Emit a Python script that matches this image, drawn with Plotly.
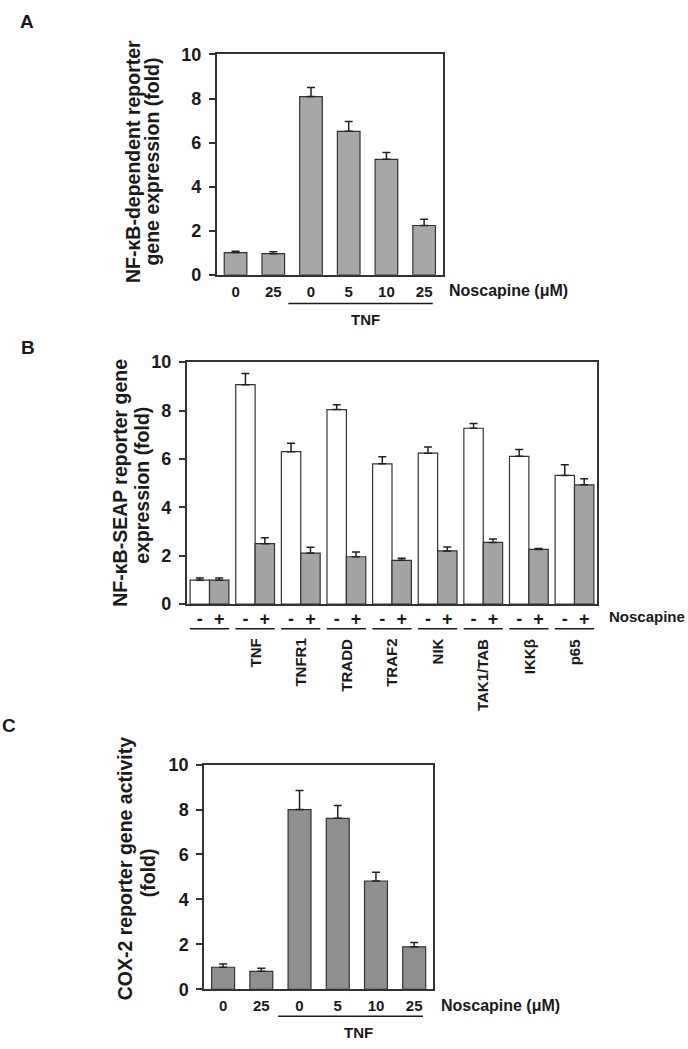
import plotly.graph_objects as go

# ---------------- data ----------------
a_labels = ["0", "25", "0", "5", "10", "25"]
a_values = [1.01, 0.96, 8.09, 6.51, 5.24, 2.24]
a_errors = [0.06, 0.09, 0.41, 0.45, 0.31, 0.28]

b_groups = ["", "TNF", "TNFR1", "TRADD", "TRAF2", "NIK", "TAK1/TAB", "IKKβ", "p65"]
b_minus_values = [0.99, 9.07, 6.30, 8.04, 5.80, 6.24, 7.27, 6.11, 5.32]
b_minus_errors = [0.09, 0.46, 0.35, 0.20, 0.29, 0.25, 0.20, 0.28, 0.44]
b_plus_values = [0.99, 2.50, 2.11, 1.96, 1.81, 2.20, 2.55, 2.26, 4.93]
b_plus_errors = [0.09, 0.24, 0.24, 0.20, 0.09, 0.16, 0.14, 0.04, 0.25]
b_tick_signs = ["-", "+"]

c_labels = ["0", "25", "0", "5", "10", "25"]
c_values = [0.98, 0.80, 8.00, 7.61, 4.82, 1.89]
c_errors = [0.14, 0.13, 0.85, 0.57, 0.39, 0.19]

y_ticks = [0, 2, 4, 6, 8, 10]

# ---------------- layout helpers ----------------
W, H = 688, 1049
FONT = "Liberation Sans, Arial, Helvetica, sans-serif"
LINE = "#333333"
ERR = "#222222"
TXT = "#1a1a1a"


def fx(p):
    return p / W


def fy(p):
    return 1 - p / H


fig = go.Figure()


def err(arr):
    return dict(type="data", symmetric=False, array=arr, arrayminus=[0] * len(arr),
                color=ERR, thickness=1.5, width=4)


# Panel A
fig.add_trace(go.Bar(x=list(range(len(a_values))), y=a_values, error_y=err(a_errors),
                     width=0.6, marker=dict(color="#a7a7a7", line=dict(color=LINE, width=1.2)),
                     xaxis="x", yaxis="y", showlegend=False))

# Panel B
bw = 0.425
fig.add_trace(go.Bar(x=list(range(len(b_groups))), y=b_minus_values, error_y=err(b_minus_errors),
                     width=bw, offset=-bw, marker=dict(color="#ffffff", line=dict(color=LINE, width=1.2)),
                     xaxis="x2", yaxis="y2", showlegend=False))
fig.add_trace(go.Bar(x=list(range(len(b_groups))), y=b_plus_values, error_y=err(b_plus_errors),
                     width=bw, offset=0, marker=dict(color="#a3a3a3", line=dict(color=LINE, width=1.2)),
                     xaxis="x2", yaxis="y2", showlegend=False))

# Panel C
fig.add_trace(go.Bar(x=list(range(len(c_values))), y=c_values, error_y=err(c_errors),
                     width=0.6, marker=dict(color="#8f8f8f", line=dict(color=LINE, width=1.2)),
                     xaxis="x3", yaxis="y3", showlegend=False))


def xax(dom, n, tickvals, ticktext, anchor, size=15, standoff=2):
    return dict(domain=[fx(dom[0]), fx(dom[1])], range=[-0.5, n - 0.5], anchor=anchor,
                tickvals=tickvals, ticktext=ticktext, ticks="", showline=True, mirror=True,
                linecolor=LINE, linewidth=1.5, showgrid=False, zeroline=False,
                ticklabelstandoff=standoff,
                tickfont=dict(family=FONT, size=size, color=TXT, weight="bold"),
                fixedrange=True)


def yax(dom, anchor):
    return dict(domain=[fy(dom[1]), fy(dom[0])], range=[0, 10], anchor=anchor,
                tickvals=y_ticks, ticks="outside", ticklen=6, tickwidth=1.5, tickcolor=LINE,
                showline=True, mirror=True, linecolor=LINE, linewidth=1.5,
                showgrid=False, zeroline=False, ticklabelstandoff=4,
                tickfont=dict(family=FONT, size=18, color=TXT, weight="bold"),
                fixedrange=True)


nb = len(b_groups)
b_tickvals = []
b_ticktext = []
for i in range(nb):
    b_tickvals += [i - bw / 2, i + bw / 2]
    b_ticktext += b_tick_signs

fig.update_layout(
    width=W, height=H, margin=dict(l=0, r=0, t=0, b=0),
    paper_bgcolor="white", plot_bgcolor="white",
    xaxis=xax((216.7, 443), len(a_values), list(range(len(a_labels))), a_labels, "y"),
    yaxis=yax((45.3, 270), "x"),
    xaxis2=xax((186.7, 597.3), nb, b_tickvals, b_ticktext, "y2", size=18, standoff=-3),
    yaxis2=yax((359, 605.7), "x2"),
    xaxis3=xax((204, 433.3), len(c_values), list(range(len(c_labels))), c_labels, "y3"),
    yaxis3=yax((769.3, 998.3), "x3"),
)

ann = []


def text(x, y, s, size, xanchor="center", yanchor="middle", angle=0, xref="paper"):
    ann.append(dict(x=x, y=y, xref=xref, yref="paper", text=s, showarrow=False,
                    xanchor=xanchor, yanchor=yanchor, textangle=angle,
                    font=dict(family=FONT, size=size, color=TXT, weight="bold")))


TS = 19.5
# Panel letters
text(fx(27), fy(12), "A", 19)
text(fx(28), fy(344.5), "B", 19)
text(fx(9), fy(729.5), "C", 19)

# Y titles
text(fx(133), fy(155), "NF-κB-dependent reporter", TS, angle=-90)
text(fx(152.5), fy(155), "gene expression (fold)", TS, angle=-90)
text(fx(120), fy(482), "NF-κB-SEAP reporter gene", TS, angle=-90)
text(fx(142), fy(485), "expression (fold)", TS, angle=-90)
text(fx(125), fy(876), "COX-2 reporter gene activity", TS, angle=-90)
text(fx(148), fy(880), "(fold)", TS, angle=-90)

# Noscapine labels
text(fx(447), fy(286), "Noscapine (μM)", 16, xanchor="left")
text(fx(607), fy(618), "Noscapine", 15, xanchor="left")
text(fx(439), fy(1015), "Noscapine (μM)", 16, xanchor="left")

# TNF labels
text(fx(365), fy(316), "TNF", 15)
text(fx(358), fy(1042), "TNF", 15)

# B group labels (rotated)
for i, g in enumerate(b_groups):
    if g:
        text(i, fy(639), g, 15, yanchor="top", angle=-90, xref="x2")

fig.update_layout(annotations=ann)

shapes = []
# underline TNF in A and C
shapes.append(dict(type="line", xref="x", yref="paper", x0=1.4, x1=5.23, y0=fy(299.3), y1=fy(299.3),
                   line=dict(color=TXT, width=1.5)))
shapes.append(dict(type="line", xref="x3", yref="paper", x0=1.44, x1=5.23, y0=fy(1025.7), y1=fy(1025.7),
                   line=dict(color=TXT, width=1.5)))
for i in range(nb):
    shapes.append(dict(type="line", xref="x2", yref="paper", x0=i - 0.43, x1=i + 0.43,
                       y0=fy(630.7), y1=fy(630.7), line=dict(color=TXT, width=1.5)))
fig.update_layout(shapes=shapes)

fig.write_html("out.html", config={"displayModeBar": False},
               post_script="document.body.style.margin='0';document.body.style.overflow='hidden';")
